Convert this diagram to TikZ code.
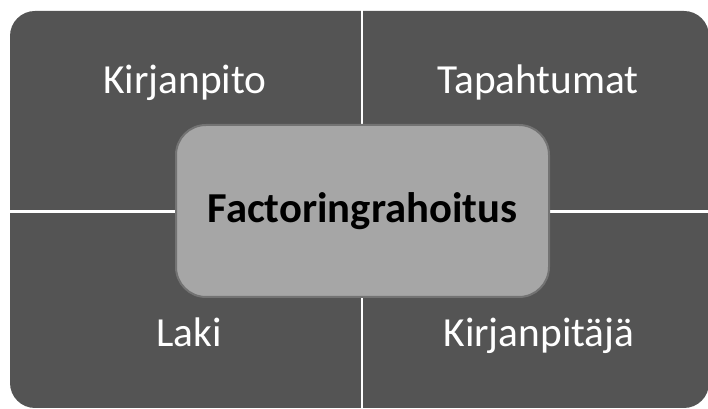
\documentclass[tikz,border=0pt]{standalone}
\usepackage{fontspec}
\setmainfont{Carlito}
\definecolor{quad}{HTML}{545454}
\definecolor{hubfill}{HTML}{A6A6A6}
\definecolor{hubline}{HTML}{737373}
\begin{document}
\begin{tikzpicture}[x=0.75pt,y=-0.75pt,
  quadlabel/.style={text=white,font=\fontsize{31}{36}\selectfont,anchor=base},
  gap/.style={draw=white},
  hub/.style={draw=hubline,line width=1.5pt,fill=hubfill,rounded corners=22.5pt,
    minimum width=279.75pt,minimum height=129pt,inner sep=0pt,
    font=\bfseries\fontsize{32}{38}\selectfont,text=black}]
\useasboundingbox (0,0) rectangle (708,409);
% outer block with rounded corners, split into four quadrants by white gaps
\fill[quad,rounded corners=18.75pt] (10,11) rectangle (709,408);
\coordinate (vtop) at (362,10);
\coordinate (vbot) at (362,409);
\coordinate (hl) at (9,211.5);
\coordinate (hr) at (710,211.5);
\draw[gap,line width=1.5pt] (vtop) -- (vbot);
\draw[gap,line width=2.25pt] (hl) -- (hr);
% quadrant labels
\node[quadlabel] (tl) at (185,94) {Kirjanpito};
\node[quadlabel] (tr) at (538,94) {Tapahtumat};
\node[quadlabel] (bl) at (189,347) {Laki};
\node[quadlabel] (br) at (539,347) {Kirjanpitäjä};
% central topic
\node[hub] (c) at (362.5,211) {Factoringrahoitus};
\end{tikzpicture}
\end{document}
